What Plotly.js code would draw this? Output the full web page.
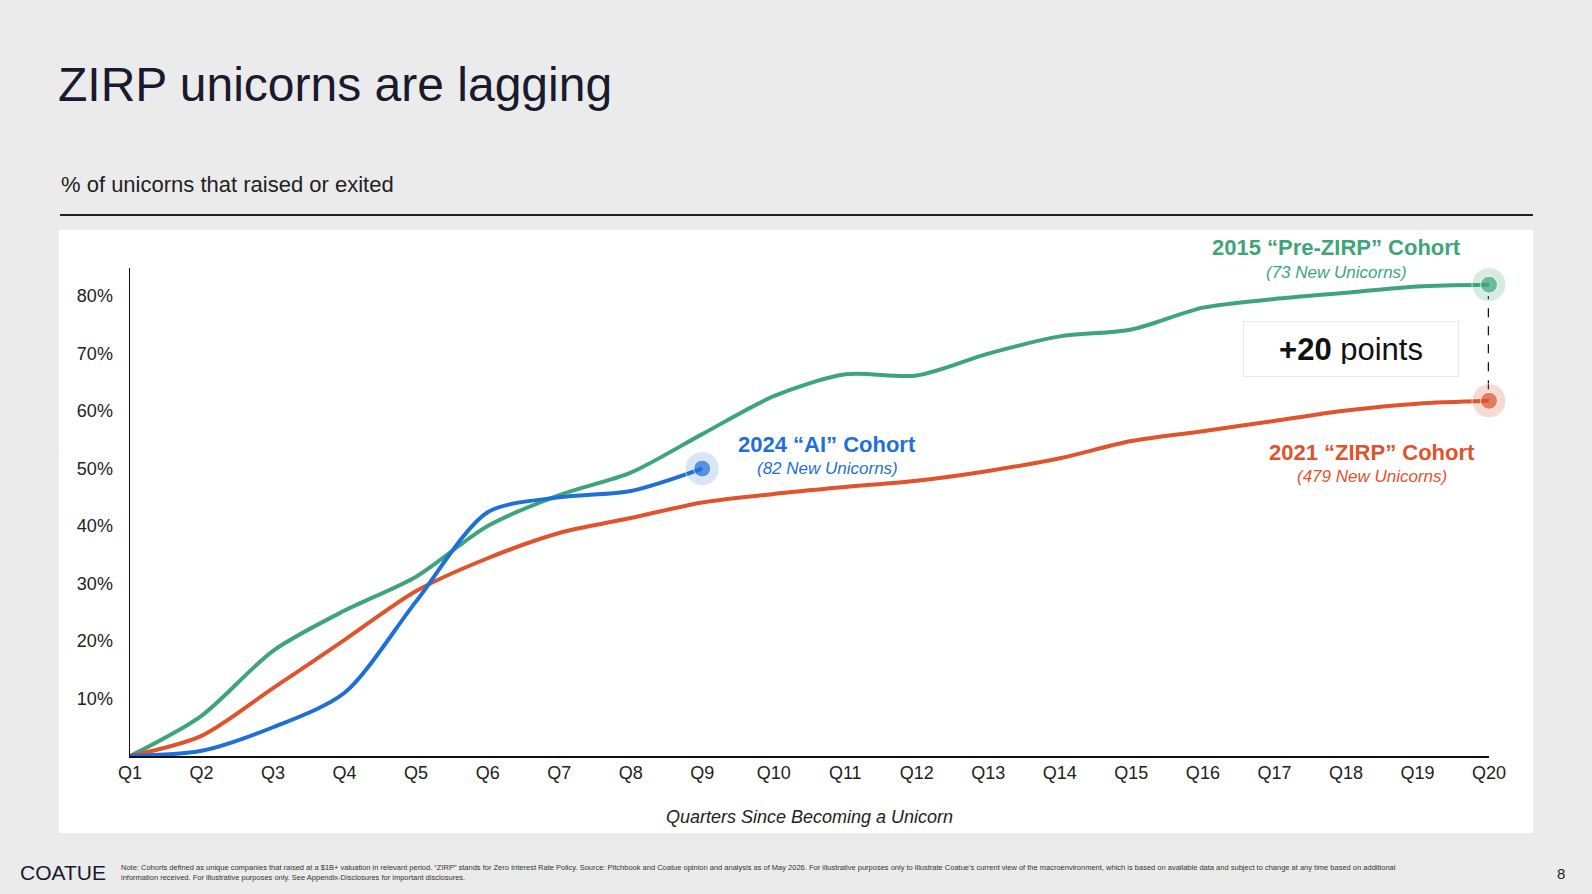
<!DOCTYPE html>
<html><head><meta charset="utf-8">
<script src="https://cdn.plot.ly/plotly-3.0.1.min.js"></script>
<style>html,body{margin:0;padding:0;background:#ebebeb;}#chart{width:1592px;height:894px;}</style>
</head><body><div id="chart"></div>
<script>
const quarters = ["Q1","Q2","Q3","Q4","Q5","Q6","Q7","Q8","Q9","Q10","Q11","Q12","Q13","Q14","Q15","Q16","Q17","Q18","Q19","Q20"];
const preZirp = [0, 7, 18.3, 25.3, 31.2, 40, 45.4, 49.3, 56, 62.6, 66.4, 66.2, 70, 73, 74.2, 78, 79.5, 80.6, 81.7, 82];
const zirp = [0, 3.5, 11.8, 20.2, 28.7, 34.4, 38.8, 41.4, 44.1, 45.6, 46.8, 47.9, 49.6, 51.8, 54.8, 56.5, 58.3, 60.1, 61.3, 61.8];
const ai = [0, 0.9, 5, 11, 26.9, 42.4, 45, 46.1, 50];

const GREEN = "#3ea57a", RED = "#e0532c", BLUE = "#1f6fd8";
const FONT = "Liberation Sans, Arial, sans-serif";
const xs = (arr) => arr.map((_, i) => i + 1);

function lineTrace(vals, colour) {
  return { type: "scatter", mode: "lines", x: xs(vals), y: vals,
    line: { color: colour, width: 4, shape: "spline", smoothing: 0.8 }, hoverinfo: "skip" };
}
function endDot(vals, colour, halo) {
  const i = vals.length - 1;
  return { type: "scatter", mode: "markers", x: [i + 1, i + 1], y: [vals[i], vals[i]], cliponaxis: false,
    marker: { color: [halo, colour], size: [34, 17] }, hoverinfo: "skip" };
}

const traces = [
  lineTrace(preZirp, GREEN), lineTrace(zirp, RED), lineTrace(ai, BLUE),
  { type: "scatter", mode: "lines", x: [20, 20], y: [zirp[19] + 2, preZirp[19] - 2],
    line: { color: "#111", width: 2.5, dash: "dash" }, hoverinfo: "skip" },
  endDot(preZirp, GREEN, "rgba(62,165,122,0.3)"),
  endDot(zirp, RED, "rgba(224,83,44,0.3)"),
  endDot(ai, BLUE, "rgba(31,111,216,0.25)"),
];

// pixel -> paper helpers (plot area 130..1489 x, 268..756 y)
const px = (p) => (p - 130) / 1359;
const py = (p) => (756 - p) / 488;

function paperText(x, y, text, size, colour, extra) {
  return Object.assign({ x, y, xref: "paper", yref: "paper", text, showarrow: false,
    font: { family: FONT, size, color: colour }, xanchor: "left", yanchor: "middle" }, extra || {});
}
function label(xp, yp, text, colour, size, extra) {
  return paperText(px(xp), py(yp), text, size, colour, Object.assign({ xanchor: "center" }, extra || {}));
}

const note = "Note: Cohorts defined as unique companies that raised at a $1B+ valuation in relevant period. “ZIRP” stands for Zero Interest Rate Policy. Source: Pitchbook and Coatue opinion and analysis as of May 2026. For illustrative purposes only to illustrate Coatue’s current view of the macroenvironment, which is based on available data and subject to change at any time based on additional<br>information received. For illustrative purposes only. See Appendix-Disclosures for important disclosures.";

const layout = {
  width: 1592, height: 894,
  margin: { l: 130, r: 103, t: 268, b: 138 },
  paper_bgcolor: "#ebebeb", plot_bgcolor: "rgba(0,0,0,0)",
  showlegend: false,
  font: { family: FONT, size: 18, color: "#222" },
  xaxis: { range: [1, 20], tickvals: xs(quarters), ticktext: quarters, showgrid: false, zeroline: false,
    showline: true, linecolor: "#111", linewidth: 1.5, ticks: "", tickfont: { size: 18, color: "#222" },
    title: { text: "<i>Quarters Since Becoming a Unicorn</i>", font: { size: 18, color: "#222" }, standoff: 28 } },
  yaxis: { range: [0, 84.9], tickvals: [10, 20, 30, 40, 50, 60, 70, 80],
    ticktext: ["10%", "20%", "30%", "40%", "50%", "60%", "70%", "80%"],
    showgrid: false, zeroline: false, showline: true, linecolor: "#111", linewidth: 1.5, ticks: "",
    ticklabelstandoff: 12, tickfont: { size: 18, color: "#222" } },
  shapes: [
    { type: "rect", xref: "paper", yref: "paper", x0: px(59), x1: px(1533), y0: py(833), y1: py(230),
      fillcolor: "white", line: { width: 0 }, layer: "below" },
    { type: "line", xref: "paper", yref: "paper", x0: px(60), x1: px(1533), y0: py(215), y1: py(215),
      line: { color: "#222", width: 2 } },
  ],
  annotations: [
    paperText(px(56), py(84), "ZIRP unicorns are lagging", 48, "#1a1a2e"),
    paperText(px(59), py(185), "% of unicorns that raised or exited", 22, "#222"),
    label(1336, 247, "<b>2015 “Pre-ZIRP” Cohort</b>", GREEN, 22),
    label(1336, 272, "<i>(73 New Unicorns)</i>", GREEN, 17),
    label(827, 444, "<b>2024 “AI” Cohort</b>", BLUE, 22),
    label(827, 468, "<i>(82 New Unicorns)</i>", BLUE, 17),
    label(1372, 452, "<b>2021 “ZIRP” Cohort</b>", RED, 22),
    label(1372, 476, "<i>(479 New Unicorns)</i>", RED, 17),
    label(1351, 349, "<b>+20</b> points", "#111", 31,
      { bgcolor: "white", borderpad: 12, bordercolor: "#e6e6e6", borderwidth: 1, width: 190, height: 30 }),
    paperText(px(18), py(872), "COATUE", 21, "#1a1a2e"),
    paperText(px(119), py(872), note, 7.5, "#333", { align: "left" }),
    paperText(px(1561), py(873), "8", 15, "#222", { xanchor: "center" }),
  ],
};

Plotly.newPlot("chart", traces, layout, { displayModeBar: false, staticPlot: true });
</script></body></html>
